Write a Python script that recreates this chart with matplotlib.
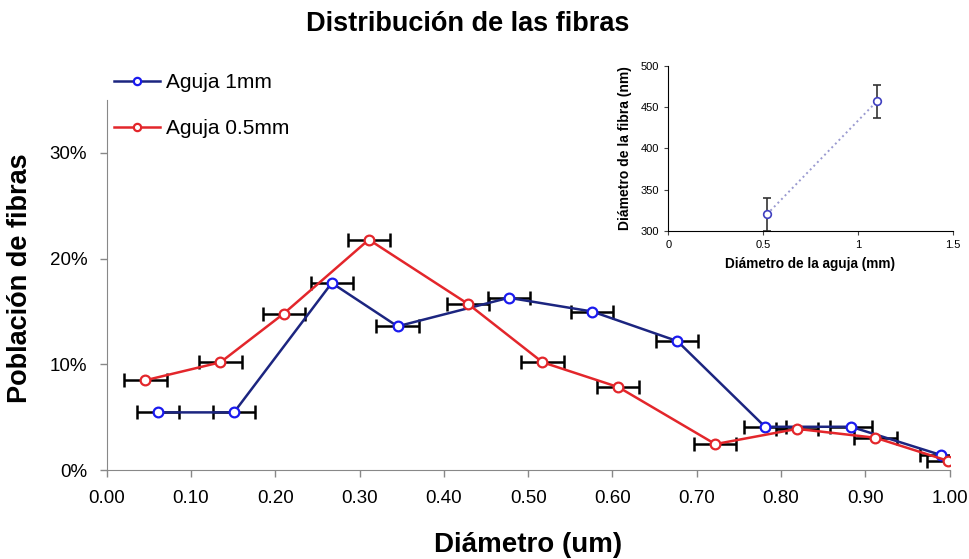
import matplotlib.pyplot as plt
from matplotlib.ticker import FuncFormatter

plt.rcParams['font.family'] = ['Liberation Sans', 'DejaVu Sans']

# main chart data
x_1mm = [0.061, 0.151, 0.267, 0.345, 0.477, 0.576, 0.677, 0.781, 0.883, 0.990]
y_1mm = [5.46, 5.46, 17.7, 13.6, 16.3, 15.0, 12.2, 4.1, 4.1, 1.42]
x_05mm = [0.046, 0.135, 0.210, 0.311, 0.429, 0.517, 0.607, 0.722, 0.819, 0.912, 0.998]
y_05mm = [8.5, 10.2, 14.8, 21.8, 15.7, 10.2, 7.85, 2.46, 3.9, 3.06, 0.88]
xerr = 0.025

# inset data
aguja = [0.52, 1.1]
fibra = [320, 457]
fibra_err = [20, 20]

fig = plt.figure(figsize=(9.7, 5.59), dpi=100)
ax = fig.add_axes([0.110, 0.159, 0.869, 0.662])

ax.errorbar(x_1mm, y_1mm, xerr=xerr, fmt='none', ecolor='black', elinewidth=1.8, capsize=5, capthick=1.8, zorder=2)
ax.errorbar(x_05mm, y_05mm, xerr=xerr, fmt='none', ecolor='black', elinewidth=1.8, capsize=5, capthick=1.8, zorder=2)
l1, = ax.plot(x_1mm, y_1mm, color='#1c2580', lw=1.8, marker='o', ms=7, mfc='white', mec='#1a1aee', mew=1.6, label='Aguja 1mm', zorder=3)
l2, = ax.plot(x_05mm, y_05mm, color='#e3262b', lw=1.8, marker='o', ms=7, mfc='white', mec='#e3262b', mew=1.6, label='Aguja 0.5mm', zorder=4)

ax.set_xlim(0, 1.0)
ax.set_ylim(0, 35)
ax.set_xticks([i / 10 for i in range(11)])
ax.set_yticks([0, 10, 20, 30])
ax.xaxis.set_major_formatter(FuncFormatter(lambda v, p: f'{v:.2f}'))
ax.yaxis.set_major_formatter(FuncFormatter(lambda v, p: f'{v:.0f}%'))
ax.tick_params(labelsize=13.5, color='#888888', length=5, width=1, direction='out')
ax.tick_params(axis='x', pad=9)
ax.tick_params(axis='y', pad=9)
for s in ['top', 'right']:
    ax.spines[s].set_visible(False)
for s in ['left', 'bottom']:
    ax.spines[s].set_color('#888888')

ax.set_xlabel('Diámetro (um)', fontsize=20, fontweight='bold', labelpad=18)
ax.set_ylabel('Población de fibras', fontsize=19.5, fontweight='bold')
ax.yaxis.set_label_coords(-0.088, 0.52)
fig.text(0.482, 0.957, 'Distribución de las fibras', ha='center', va='center', fontsize=19.5, fontweight='bold')

fig.legend(handles=[l1, l2], loc='upper left', bbox_to_anchor=(0.098, 0.903), frameon=False,
           fontsize=15, handlelength=2.2, handletextpad=0.3, labelspacing=1.3, markerscale=0.75)

# inset
ins = fig.add_axes([0.689, 0.587, 0.293, 0.295])
ins.errorbar(aguja, fibra, yerr=fibra_err, fmt='none', ecolor='#333333', elinewidth=1.2, capsize=3, capthick=1.2)
ins.plot(aguja, fibra, ls=':', color='#9a9ad0', lw=1.4, marker='o', ms=5.5, mfc='white', mec='#4040c0', mew=1.2)
ins.set_xlim(0, 1.5)
ins.set_ylim(300, 500)
ins.set_xticks([0, 0.5, 1, 1.5])
ins.set_xticklabels(['0', '0.5', '1', '1.5'])
ins.set_yticks([300, 350, 400, 450, 500])
ins.tick_params(labelsize=8, length=3, width=0.8, color='#444444')
for s in ['top', 'right']:
    ins.spines[s].set_visible(False)
ins.set_xlabel('Diámetro de la aguja (mm)', fontsize=9.8, fontweight='bold', labelpad=5)
ins.set_ylabel('Diámetro de la fibra (nm)', fontsize=10, fontweight='bold', labelpad=6)

fig.savefig('out.png', dpi=100)
